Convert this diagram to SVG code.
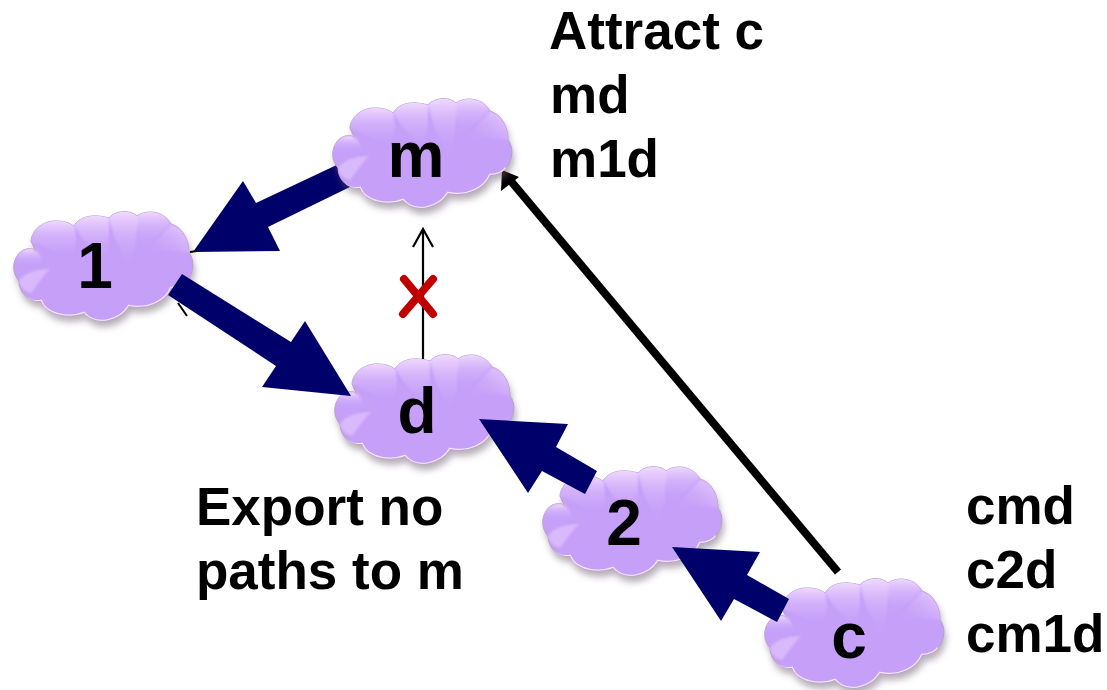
<svg xmlns="http://www.w3.org/2000/svg" width="1107" height="690" viewBox="0 0 1107 690">
<style>
.l{font-family:"Liberation Sans",Arial,sans-serif;font-weight:700;font-size:53px;fill:#000}
.n{font-family:"Liberation Sans",Arial,sans-serif;font-weight:700;font-size:64px;fill:#000;text-anchor:middle}
.a{fill:#00006b}
</style>
<defs>
<linearGradient id="lobe" x1="0" y1="0" x2="0" y2="1"><stop offset="0" stop-color="#f6e2ff" stop-opacity=".95"/><stop offset=".4" stop-color="#e2c6fd" stop-opacity=".5"/><stop offset="1" stop-color="#c69ff8" stop-opacity="0"/></linearGradient>
<linearGradient id="wedge" x1="1" y1="0" x2="0" y2="1"><stop offset="0" stop-color="#f3dcff" stop-opacity=".85"/><stop offset="1" stop-color="#c69ff8" stop-opacity="0"/></linearGradient>
<filter id="sh" x="-10%" y="-10%" width="120%" height="130%"><feGaussianBlur stdDeviation="3.5"/></filter>
<filter id="so" x="-10%" y="-10%" width="120%" height="120%"><feGaussianBlur stdDeviation="1"/></filter>
<path id="o" d="M0,53C2,42 10,36 19,38C21,39 22,41 23,43L17,30C18,18 30,9 44,10C50,10 56,12 60,15C65,6 78,2 95,7C100,0 116,-2 123,5C133,-2 150,0 157,13C168,16 175,28 175,42C180,48 181,60 173,70C170,74 164,77 157,77C152,90 134,99 115,95C106,110 82,116 70,102C55,108 32,104 27,90C15,91 5,82 5,70C1,65 -1,60 0,53Z"/>
<clipPath id="cc"><use href="#o"/></clipPath>
<g id="cloud">
<use href="#o" fill="#6a5a70" opacity=".5" filter="url(#sh)" transform="translate(2,6)"/>
<use href="#o" fill="#c69ff8" stroke="#b7a2c8" stroke-width="1"/>
<g clip-path="url(#cc)"><g filter="url(#so)">
<path d="M-2,53C2,42 10,36 19,38C24,40 27,44 30,54C20,55 8,56 -2,53Z" fill="url(#lobe)"/>
<path d="M15,30C18,16 30,7 44,8C50,8 56,10 60,13C64,30 62,45 52,50C42,40 28,34 15,30Z" fill="url(#lobe)"/>
<path d="M60,13C65,4 78,0 95,5C96,20 94,40 92,52C82,40 68,32 60,13Z" fill="url(#lobe)"/>
<path d="M95,5C100,-2 116,-4 123,3C124,20 122,40 116,58C106,40 98,25 95,5Z" fill="url(#lobe)"/>
<path d="M123,3C133,-4 150,-2 157,11C150,20 136,32 128,38C124,28 122,15 123,3Z" fill="url(#lobe)"/>
<path d="M157,13C168,16 177,28 177,42C160,40 145,38 132,42C140,30 150,22 157,13Z" fill="url(#wedge)"/>
<path d="M5,70C10,62 22,58 36,58C28,66 22,76 17,82C10,80 6,76 5,70Z" fill="#e0c4fc" opacity=".7"/>
</g>
<path d="M8,84C14,90 22,91 27,90C32,104 55,108 70,102C82,116 106,110 115,95C134,99 152,90 157,77C164,77 170,74 173,70" fill="none" stroke="#f4e2fa" stroke-width="2.5"/>
</g>
</g>
</defs>
<rect width="1107" height="690" fill="#fff"/>
<g id="node-1"><use href="#cloud" x="14" y="211"/><text class="n" x="95" y="288">1</text></g>
<g id="node-d"><use href="#cloud" x="335" y="354"/><text class="n" x="417" y="433">d</text></g>
<g id="node-2"><use href="#cloud" x="543" y="466"/><text class="n" x="624" y="545">2</text></g>
<g id="node-c"><use href="#cloud" x="765" y="578"/><text class="n" x="849" y="658">c</text></g>
<g id="connectors">
<path d="M343,162L256,203L243,181L193,252L280,251L268,227L352,186Z" class="a"/>
<path d="M182,274L291,342L305,321L351,396L262,387L276,366L168,295Z" class="a"/>
<path d="M597,471L556,447L568,424L479,419L528,493L542,471L585,494Z" class="a"/>
<path d="M789,599L747,575L760,552L672,547L721,621L734,599L777,622Z" class="a"/>
<path d="M838,572L510,180" fill="none" stroke="#000" stroke-width="8"/>
<path d="M502,170L519,177L501,191Z" fill="#000"/>
<path d="M423,359V229M413,247L423,229L433,247" fill="none" stroke="#000" stroke-width="2.2"/>
<path d="M404,279L433,314M433,279L403,314" fill="none" stroke="#c00000" stroke-width="8" stroke-linecap="round"/>
<path d="M178,303L187,316M190,252L197,251" fill="none" stroke="#000" stroke-width="2"/>
</g>
<g id="node-m"><use href="#cloud" x="333" y="98"/><text class="n" x="416" y="177">m</text></g>
<g id="labels">
<text class="l" x="549" y="49">Attract c</text>
<text class="l" x="550" y="113">md</text>
<text class="l" x="550" y="177">m1d</text>
<text class="l" x="196" y="525">Export no</text>
<text class="l" x="196" y="589">paths to m</text>
<text class="l" x="966" y="524">cmd</text>
<text class="l" x="966" y="588">c2d</text>
<text class="l" x="966" y="652">cm1d</text>
</g>
</svg>
